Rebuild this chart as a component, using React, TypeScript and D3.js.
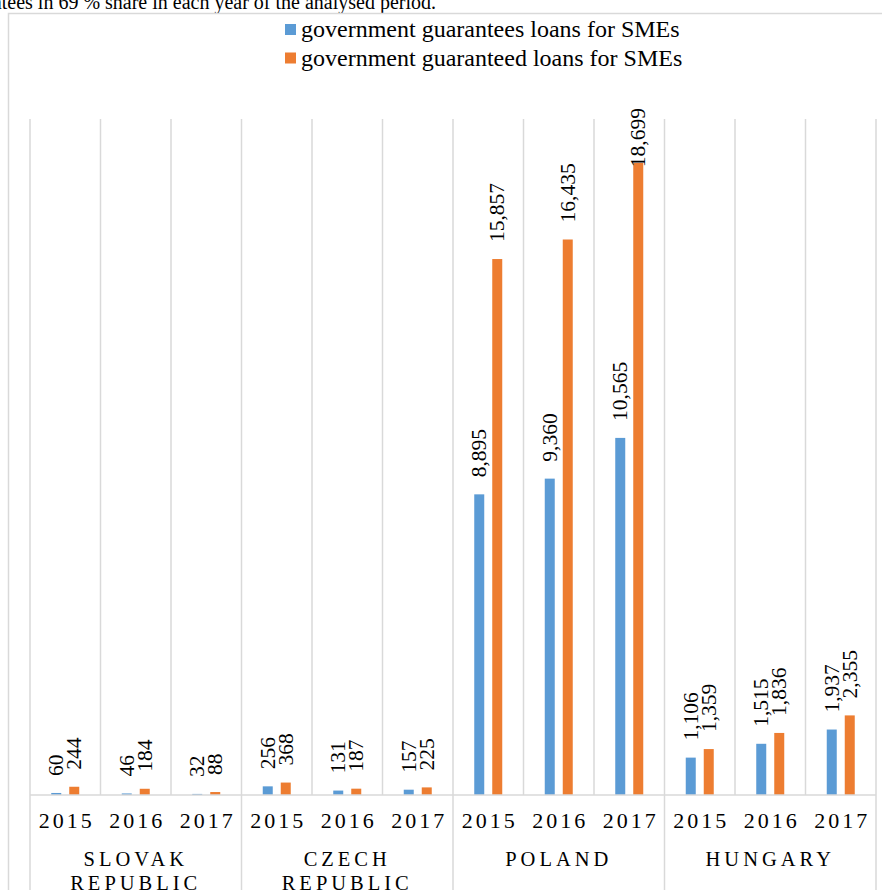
import React from "react";
import * as d3 from "d3";

const groups: string[][] = [["SLOVAK", "REPUBLIC"], ["CZECH", "REPUBLIC"], ["POLAND"], ["HUNGARY"]];
const years: string[] = ["2015", "2016", "2017"];
const seriesNames: string[] = [
  "government guarantees loans for SMEs",
  "government guaranteed loans for SMEs",
];
const guarantees: number[] = [60, 46, 32, 256, 131, 157, 8895, 9360, 10565, 1106, 1515, 1937];
const guaranteed: number[] = [244, 184, 88, 368, 187, 225, 15857, 16435, 18699, 1359, 1836, 2355];
const colors: string[] = ["#5b9bd5", "#ed7d31"];
const topText = "guarantees in 69 % share in each year of the analysed period.";

const W = 882;
const H = 890;
const FONT = "'Liberation Serif', 'Times New Roman', serif";

export default function App() {
  const plotLeft = 30;
  const plotRight = 876;
  const plotTop = 119;
  const baseY = 795;
  const cats = groups.flatMap((g, gi) => years.map((y) => `${gi}-${y}`));
  const x = d3.scaleBand<string>().domain(cats).range([plotLeft, plotRight]).padding(0);
  const y = d3.scaleLinear().domain([0, 20000]).range([baseY, plotTop]);
  const bw = x.bandwidth();
  const fmt = d3.format(",");
  const labelFs = 21.5;
  const labelLen = (s: string) =>
    s.split("").reduce((a, c) => a + (c === "," ? 0.25 : 0.5), 0) * labelFs;
  const series = [guarantees, guaranteed];

  const gx = d3
    .scaleBand<number>()
    .domain(groups.map((_, i) => i))
    .range([plotLeft, plotRight])
    .padding(0);

  return (
    <svg
      width={W}
      height={H}
      style={{ position: "absolute", left: 0, top: 0, background: "#fff" }}
      fontFamily={FONT}
    >
      <text x={436} y={8.5} fontSize={20} textAnchor="end" fill="#000">
        {topText}
      </text>
      {/* outer frame */}
      <rect x={8.5} y={13.5} width={W} height={H} fill="none" stroke="#d9d9d9" strokeWidth={1.5} />

      {/* legend */}
      {seriesNames.map((n, i) => (
        <g key={n}>
          <rect x={285} y={24 + i * 28.5} width={11} height={11} fill={colors[i]} />
          <text x={301} y={37 + i * 28.5} fontSize={24} fill="#000">
            {n}
          </text>
        </g>
      ))}

      {/* vertical gridlines */}
      {cats.map((c) => (
        <line
          key={c}
          x1={x(c)!}
          x2={x(c)!}
          y1={plotTop}
          y2={baseY}
          stroke="#d9d9d9"
          strokeWidth={1.5}
        />
      ))}
      <line x1={plotRight} x2={plotRight} y1={plotTop} y2={baseY} stroke="#d9d9d9" strokeWidth={1.5} />

      {/* bars */}
      {cats.map((c, ci) => {
        const cx = x(c)! + bw / 2;
        const inner = d3
          .scaleBand<number>()
          .domain([0, 1])
          .range([cx - 14, cx + 14])
          .paddingInner(8 / 18);
        return (
          <g key={c}>
            {series.map((s, si) => {
              const v = s[ci];
              const bx = inner(si)!;
              const top = y(v);
              const label = fmt(v);
              const len = labelLen(label);
              const startY = Math.max(top - 17, 108 + len);
              const lx = bx + inner.bandwidth() / 2 + labelFs * 0.33;
              return (
                <g key={si}>
                  <rect x={bx} y={top} width={inner.bandwidth()} height={baseY - top} fill={colors[si]} />
                  <text
                    transform={`translate(${lx},${startY}) rotate(-90)`}
                    fontSize={labelFs}
                    fill="#000"
                  >
                    {label}
                  </text>
                </g>
              );
            })}
          </g>
        );
      })}

      {/* axis line */}
      <line x1={plotLeft} x2={plotRight} y1={baseY} y2={baseY} stroke="#d9d9d9" strokeWidth={1.5} />

      {/* group separators */}
      {groups.map((_, gi) => (
        <line
          key={gi}
          x1={gx(gi)!}
          x2={gx(gi)!}
          y1={baseY}
          y2={H}
          stroke="#d9d9d9"
          strokeWidth={1.5}
        />
      ))}
      <line x1={plotRight} x2={plotRight} y1={baseY} y2={H} stroke="#d9d9d9" strokeWidth={1.5} />

      {/* year labels */}
      {cats.map((c, ci) => (
        <text
          key={c}
          x={x(c)! + bw / 2 + 1.5}
          y={827.5}
          fontSize={22}
          letterSpacing={3}
          textAnchor="middle"
          fill="#000"
        >
          {years[ci % 3]}
        </text>
      ))}

      {/* group labels */}
      {groups.map((lines, gi) =>
        lines.map((ln, li) => (
          <text
            key={`${gi}-${li}`}
            x={gx(gi)! + gx.bandwidth() / 2}
            y={866 + li * 24}
            fontSize={20.5}
            letterSpacing={4}
            textAnchor="middle"
            fill="#000"
          >
            {ln}
          </text>
        ))
      )}
    </svg>
  );
}
